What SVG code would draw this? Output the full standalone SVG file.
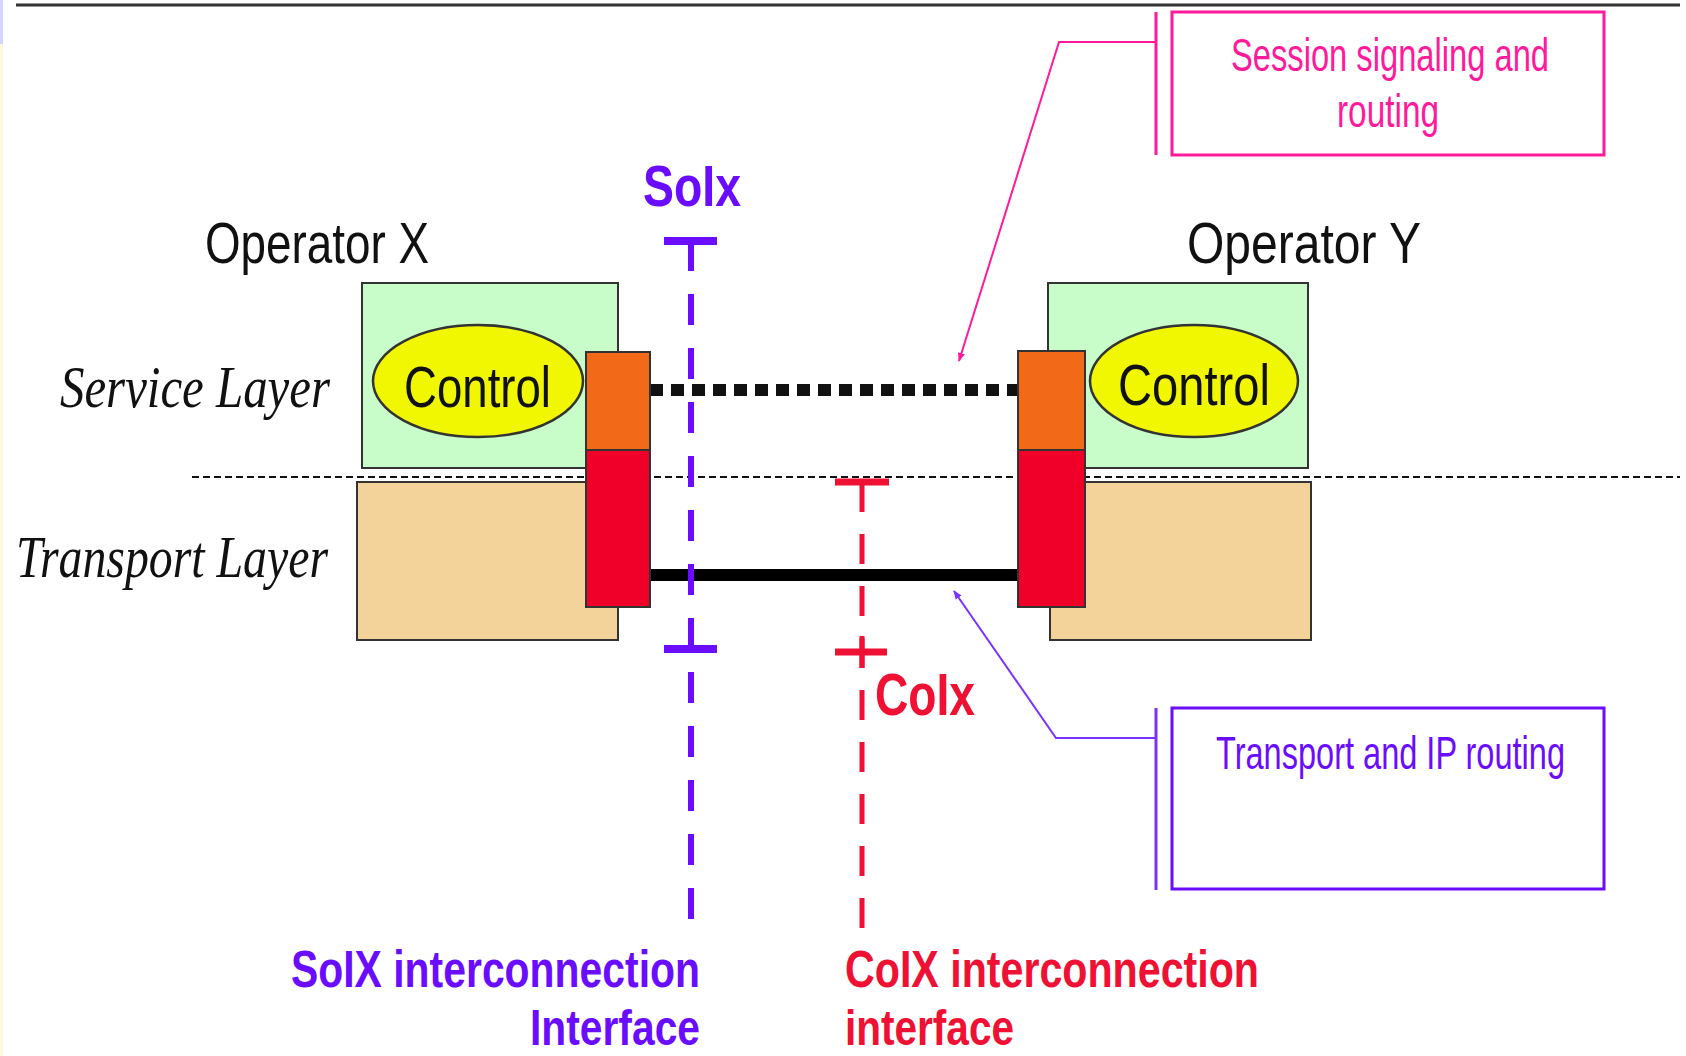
<svg xmlns="http://www.w3.org/2000/svg" width="1686" height="1056" viewBox="0 0 1686 1056">
<defs>
<style>
.sans{font-family:"Liberation Sans",Arial,sans-serif}
.serif{font-family:"Liberation Serif","Times New Roman",serif;font-style:italic}
.lbl{font-size:57px;fill:#111}
.ctl{font-size:58px;fill:#111}
.layer{font-size:60px;fill:#111}
.blue{fill:#6a0dff}
.red{fill:#ee1133}
.pink{fill:#ff1a9c}
.box{stroke:#333;stroke-width:2}
.green{fill:#c8fcc8}
.tan{fill:#f4d39a}
.orange{fill:#f26a18}
.redbox{fill:#f00028}
.ell{fill:#f0f700;stroke:#333;stroke-width:2.5}
</style>
<marker id="arrPink" viewBox="0 0 10 10" refX="9" refY="5" markerWidth="4.5" markerHeight="6" orient="auto" markerUnits="strokeWidth"><path d="M0,1 L10,5 L0,9 z" fill="#ff1a9c"/></marker>
<marker id="arrBlue" viewBox="0 0 10 10" refX="9" refY="5" markerWidth="4.5" markerHeight="6" orient="auto" markerUnits="strokeWidth"><path d="M0,1 L10,5 L0,9 z" fill="#7a33ff"/></marker>
</defs>
<rect x="0" y="0" width="1686" height="1056" fill="#ffffff"/>
<rect x="0" y="0" width="3" height="44" fill="#d4d4ff"/>
<rect x="0" y="44" width="3" height="1012" fill="#fff8dc"/>
<line x1="16" y1="5" x2="1680" y2="5" stroke="#333" stroke-width="3"/>

<g id="operatorX">
<rect class="box green" x="362" y="283" width="256" height="185"/>
<rect class="box tan" x="357" y="482" width="261" height="158"/>
<ellipse class="ell" cx="478" cy="381" rx="105" ry="56"/>
<text class="sans ctl" x="404" y="407" textLength="147" lengthAdjust="spacingAndGlyphs">Control</text>
<text class="sans lbl" x="205" y="263" textLength="224" lengthAdjust="spacingAndGlyphs">Operator X</text>
</g>

<g id="operatorY">
<rect class="box green" x="1048" y="283" width="260" height="185"/>
<rect class="box tan" x="1050" y="482" width="261" height="158"/>
<ellipse class="ell" cx="1194" cy="381" rx="104" ry="56"/>
<text class="sans ctl" x="1118" y="405" textLength="152" lengthAdjust="spacingAndGlyphs">Control</text>
<text class="sans lbl" x="1187" y="263" textLength="234" lengthAdjust="spacingAndGlyphs">Operator Y</text>
</g>

<g id="layers">
<line x1="192" y1="477" x2="1680" y2="477" stroke="#111" stroke-width="2" stroke-dasharray="7 4"/>
<text class="serif layer" x="60" y="407" textLength="270" lengthAdjust="spacingAndGlyphs">Service Layer</text>
<text class="serif layer" x="16" y="577" textLength="312" lengthAdjust="spacingAndGlyphs">Transport Layer</text>
</g>

<g id="connectors">
<line x1="650" y1="390" x2="1018" y2="390" stroke="#111" stroke-width="12" stroke-dasharray="13 8"/>
<line x1="650" y1="575" x2="1018" y2="575" stroke="#000" stroke-width="12"/>
<polyline points="1156,42 1059,42 959,361" fill="none" stroke="#ff1a9c" stroke-width="2" marker-end="url(#arrPink)"/>
<polyline points="1156,738 1056,738 954,591" fill="none" stroke="#7a33ff" stroke-width="2" marker-end="url(#arrBlue)"/>
</g>

<g id="gatewayX">
<rect class="box orange" x="586" y="352" width="64" height="98"/>
<rect class="box redbox" x="586" y="450" width="64" height="157"/>
</g>
<g id="gatewayY">
<rect class="box orange" x="1018" y="351" width="67" height="99"/>
<rect class="box redbox" x="1018" y="450" width="67" height="157"/>
</g>

<g id="soix">
<text class="sans blue" x="643" y="206" font-size="57" font-weight="bold" textLength="98" lengthAdjust="spacingAndGlyphs">SoIx</text>
<line x1="664" y1="241" x2="717" y2="241" stroke="#6a0dff" stroke-width="8"/>
<line x1="664" y1="649" x2="717" y2="649" stroke="#6a0dff" stroke-width="8"/>
<line x1="691" y1="240" x2="691" y2="922" stroke="#6a0dff" stroke-width="6" stroke-dasharray="31 23"/>
<text class="sans blue" x="291" y="987" font-size="52" font-weight="bold" textLength="409" lengthAdjust="spacingAndGlyphs">SoIX interconnection</text>
<text class="sans blue" x="530" y="1045" font-size="50" font-weight="bold" textLength="170" lengthAdjust="spacingAndGlyphs">Interface</text>
</g>

<g id="coix">
<line x1="835" y1="482" x2="889" y2="482" stroke="#ee1133" stroke-width="7"/>
<line x1="835" y1="652" x2="887" y2="652" stroke="#ee1133" stroke-width="7"/>
<line x1="862" y1="482" x2="862" y2="932" stroke="#ee1133" stroke-width="5" stroke-dasharray="30 22"/>
<line x1="862" y1="636" x2="862" y2="668" stroke="#ee1133" stroke-width="5"/>
<text class="sans red" x="875" y="715" font-size="60" font-weight="bold" textLength="100" lengthAdjust="spacingAndGlyphs">CoIx</text>
<text class="sans red" x="845" y="987" font-size="52" font-weight="bold" textLength="414" lengthAdjust="spacingAndGlyphs">CoIX interconnection</text>
<text class="sans red" x="845" y="1045" font-size="50" font-weight="bold" textLength="169" lengthAdjust="spacingAndGlyphs">interface</text>
</g>

<g id="sessionNote">
<line x1="1156" y1="12" x2="1156" y2="155" stroke="#ff1a9c" stroke-width="3"/>
<rect x="1172" y="12" width="432" height="143" fill="none" stroke="#ff1a9c" stroke-width="3"/>
<text class="sans pink" x="1231" y="71" font-size="46" textLength="318" lengthAdjust="spacingAndGlyphs">Session signaling and</text>
<text class="sans pink" x="1337" y="127" font-size="46" textLength="102" lengthAdjust="spacingAndGlyphs">routing</text>
</g>

<g id="transportNote">
<line x1="1156" y1="708" x2="1156" y2="890" stroke="#7a33ff" stroke-width="3"/>
<rect x="1172" y="708" width="432" height="181" fill="none" stroke="#6a0dff" stroke-width="3"/>
<text class="sans blue" x="1216" y="769" font-size="47" textLength="349" lengthAdjust="spacingAndGlyphs">Transport and IP routing</text>
</g>
</svg>
